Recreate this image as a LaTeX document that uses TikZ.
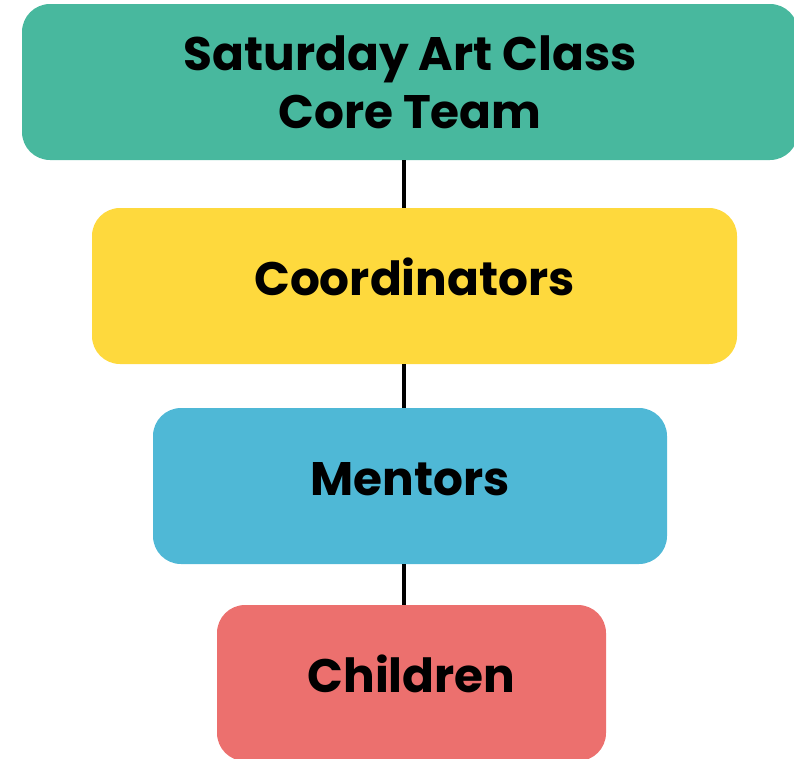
\documentclass[tikz,border=0pt]{standalone}
\usepackage{fontspec}
\setmainfont{Poppins}

\definecolor{teamgreen}{HTML}{48B89E}
\definecolor{coordyellow}{HTML}{FED93D}
\definecolor{mentorblue}{HTML}{4FB8D6}
\definecolor{childred}{HTML}{EC706E}

\tikzstyle{box} = [rounded corners=28pt,minimum height=156pt,align=center,
	font=\fontsize{47}{58}\selectfont\bfseries,inner sep=0pt]
\tikzstyle{oneline} = [box,text height=33pt,text depth=15pt]

\begin{document}
\begin{tikzpicture}[x=1pt,y=-1pt]
	\useasboundingbox (0,0) rectangle (794,758);
	\clip (0,0) rectangle (794,758);
	\coordinate (axis) at (404,0);

	\node[box,fill=teamgreen,minimum width=776pt] (core) at (410,82) {Saturday Art Class\\Core Team};
	\node[oneline,fill=coordyellow,minimum width=645pt] (coord) at (414.5,286) {Coordinators};
	\node[oneline,fill=mentorblue,minimum width=514pt] (ment) at (410,486) {Mentors};
	\node[oneline,fill=childred,minimum width=389pt] (child) at (411.5,683) {Children};

	\draw[line width=4pt] (core.south -| axis) -- (coord.north -| axis);
	\draw[line width=4pt] (coord.south -| axis) -- (ment.north -| axis);
	\draw[line width=4pt] (ment.south -| axis) -- (child.north -| axis);
\end{tikzpicture}
\end{document}
